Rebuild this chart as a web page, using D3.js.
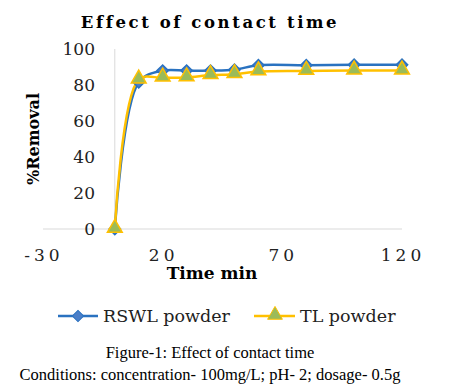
<!DOCTYPE html>
<html><head><meta charset="utf-8">
<script src="https://cdn.jsdelivr.net/npm/d3@7"></script>
<style>body{margin:0;background:#fff}svg{display:block}</style>
</head><body>
<script>
const times = [0, 10, 20, 30, 40, 50, 60, 80, 100, 120];
const rswl = [0, 81.5, 88, 88, 88, 88.5, 91, 91, 91.2, 91.2];
const tl = [0, 83, 84, 84.2, 85.5, 86, 87.5, 87.8, 88, 88];
const seriesNames = ["RSWL powder", "TL powder"];
const xTicks = [-30, 20, 70, 120];
const yTicks = [0, 20, 40, 60, 80, 100];

const W = 451, H = 391;
const svg = d3.select("body").append("svg").attr("width", W).attr("height", H);
const x = d3.scaleLinear().domain([-30, 120]).range([43, 402]);
const y = d3.scaleLinear().domain([0, 100]).range([229, 49]);
const serif = "'DejaVu Serif', serif";

// title
svg.append("text").attr("x", 210).attr("y", 28).attr("text-anchor", "middle")
  .attr("font-family", serif).attr("font-weight", "bold").attr("font-size", 16.5)
  .attr("letter-spacing", 2.6).text("Effect of contact time");

// axes lines
svg.append("line").attr("x1", x(-30)).attr("x2", x(120)).attr("y1", y(0)).attr("y2", y(0))
  .attr("stroke", "#d9d9d9").attr("stroke-width", 1);
svg.append("line").attr("x1", x(0)).attr("x2", x(0)).attr("y1", y(100)).attr("y2", y(0))
  .attr("stroke", "#d9d9d9").attr("stroke-width", 1);

// y tick labels
svg.append("g").selectAll("text").data(yTicks).join("text")
  .attr("x", 95).attr("y", d => y(d) + 6).attr("text-anchor", "end")
  .attr("font-family", serif).attr("font-size", 17).attr("fill", "#222").text(d => d);
// x tick labels
svg.append("g").selectAll("text").data(xTicks).join("text")
  .attr("x", d => x(d) + 1).attr("y", 261).attr("text-anchor", "middle")
  .attr("font-family", serif).attr("font-size", 17).attr("letter-spacing", 4).attr("fill", "#222")
  .text(d => d < 0 ? "-" + Math.abs(d) : d);

// axis titles
svg.append("text").attr("x", 212).attr("y", 279).attr("text-anchor", "middle")
  .attr("font-family", serif).attr("font-weight", "bold").attr("font-size", 17).text("Time min");
svg.append("text").attr("transform", "translate(39,139) rotate(-90)").attr("text-anchor", "middle")
  .attr("font-family", serif).attr("font-weight", "bold").attr("font-size", 16).text("%Removal");

const line = d3.line().x(d => x(d[0])).y(d => y(d[1])).curve(d3.curveCatmullRom.alpha(0.5));
const dRswl = times.map((t, i) => [t, rswl[i]]);
const dTl = times.map((t, i) => [t, tl[i]]);

const blue = "#2a72c0", yellow = "#ffc000", green = "#9bbb59";
svg.append("path").attr("d", line(dRswl)).attr("fill", "none").attr("stroke", blue).attr("stroke-width", 2.5);
svg.append("path").attr("d", line(dTl)).attr("fill", "none").attr("stroke", yellow).attr("stroke-width", 2.5);

const diamond = d3.symbol().type(d3.symbolSquare).size(64);
const tri = d3.symbol().type(d3.symbolTriangle).size(95);
svg.append("g").selectAll("path").data(dRswl).join("path")
  .attr("transform", d => `translate(${x(d[0])},${y(d[1])}) rotate(45)`).attr("d", diamond)
  .attr("fill", "#4a7ec8").attr("stroke", blue).attr("stroke-width", 1.5);
svg.append("g").selectAll("path").data(dTl).join("path")
  .attr("transform", d => `translate(${x(d[0])},${y(d[1]) - 1})`).attr("d", tri)
  .attr("fill", green).attr("stroke", yellow).attr("stroke-width", 1.5);

// legend
const lg = svg.append("g");
lg.append("line").attr("x1", 58).attr("x2", 98).attr("y1", 316).attr("y2", 316).attr("stroke", blue).attr("stroke-width", 2.5);
lg.append("path").attr("transform", "translate(78,316) rotate(45)").attr("d", diamond).attr("fill", "#4a7ec8").attr("stroke", blue).attr("stroke-width", 1);
lg.append("text").attr("x", 103).attr("y", 322).attr("font-family", serif).attr("font-size", 17.5).attr("fill", "#222").text(seriesNames[0]);
lg.append("line").attr("x1", 254).attr("x2", 295).attr("y1", 316).attr("y2", 316).attr("stroke", yellow).attr("stroke-width", 2.5);
lg.append("path").attr("transform", "translate(275,315)").attr("d", tri).attr("fill", green).attr("stroke", yellow).attr("stroke-width", 1);
lg.append("text").attr("x", 300).attr("y", 322).attr("font-family", serif).attr("font-size", 17.5).attr("fill", "#222").text(seriesNames[1]);

// caption
svg.append("text").attr("x", 210).attr("y", 358).attr("text-anchor", "middle")
  .attr("font-family", "'Liberation Serif', serif").attr("font-size", 16.5).text("Figure-1: Effect of contact time");
svg.append("text").attr("x", 210).attr("y", 380).attr("text-anchor", "middle")
  .attr("font-family", "'Liberation Serif', serif").attr("font-size", 16.5).text("Conditions: concentration- 100mg/L; pH- 2; dosage- 0.5g");
</script>
</body></html>
